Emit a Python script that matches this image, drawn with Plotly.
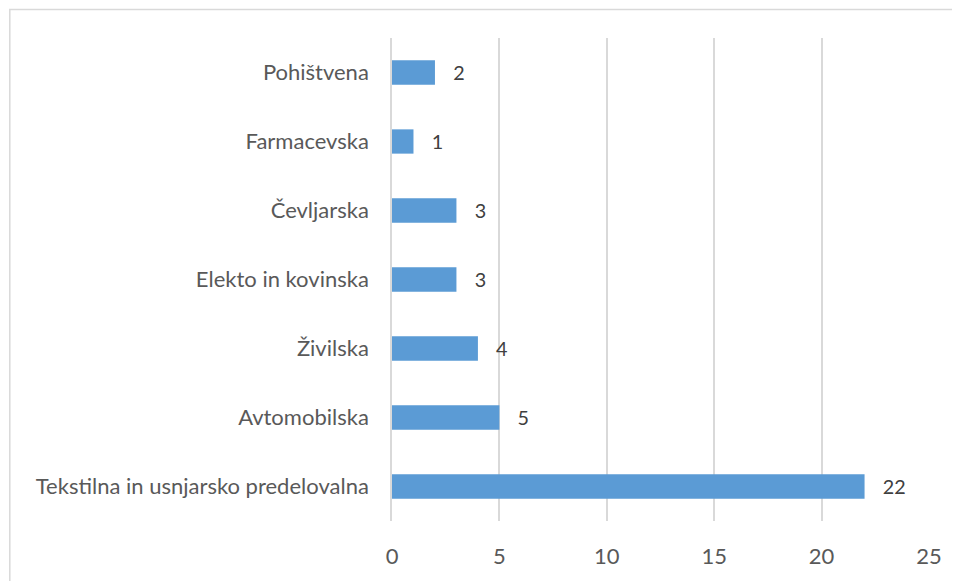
import plotly.graph_objects as go

categories = ["Tekstilna in usnjarsko predelovalna", "Avtomobilska", "Živilska",
              "Elekto in kovinska", "Čevljarska", "Farmacevska", "Pohištvena"]
values = [22, 5, 4, 3, 3, 1, 2]
x_ticks = [0, 5, 10, 15, 20, 25]

# page body has an 8px margin, so the figure is placed at (8, 8)
OFF = 8
W, H = 960 - OFF, 581 - OFF
L, R, T, B = 392 - OFF, 31.3, 37.5 - OFF, 59.5
pw = W - L - R
ph = H - T - B

font_family = "Lato, 'Open Sans', sans-serif"
grey = "#595959"
pad = "\u00a0\u00a0\u00a0"

fig = go.Figure(go.Bar(
    y=categories, x=values, orientation="h",
    marker=dict(color="#5B9BD5", line=dict(width=0)),
    text=[pad + str(v) for v in values], textposition="outside",
    textfont=dict(family=font_family, size=22, color="#404040"),
    cliponaxis=False,
))

fig.update_layout(
    width=W, height=H,
    margin=dict(l=L, r=R, t=T, b=B, pad=0),
    paper_bgcolor="white", plot_bgcolor="white",
    bargap=0.648,
    showlegend=False,
    xaxis=dict(range=[0, 25], tickvals=x_ticks, showgrid=True, gridcolor="#d9d9d9",
               gridwidth=1.5, zeroline=False, showline=False, ticks="",
               tickfont=dict(family=font_family, size=22, color=grey),
               ticklabelstandoff=20, automargin=False, fixedrange=True),
    yaxis=dict(showgrid=False, zeroline=False, showline=True, linecolor="#d9d9d9",
               linewidth=1.5, ticks="", automargin=False,
               tickfont=dict(family=font_family, size=22, color=grey),
               ticklabelstandoff=17),
    shapes=[
        dict(type="rect", xref="paper", yref="paper",
             x0=(2 - L) / pw, x1=(990 - L) / pw,
             y0=(H - B - 620) / ph, y1=(H - B - 1) / ph,
             line=dict(color="#d9d9d9", width=1.5), fillcolor="rgba(0,0,0,0)",
             layer="below"),
    ],
)

fig.write_html("out.html")
